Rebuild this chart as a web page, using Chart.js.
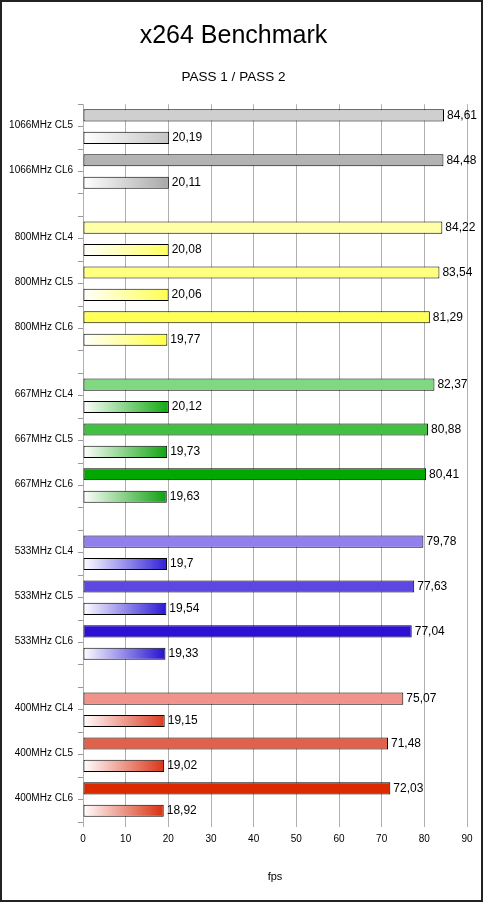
<!DOCTYPE html>
<html>
<head>
<meta charset="utf-8">
<title>x264 Benchmark</title>
<script src="https://cdn.jsdelivr.net/npm/chart.js@4/dist/chart.umd.min.js"></script>
<style>
    body { margin: 0; background: #fff; }
    canvas { display: block; }
</style>
</head>
<body>
<canvas id="benchChart" width="483" height="903"></canvas>
<script>
// Memory configurations, top to bottom
const configs = [
    '1066MHz CL5', '1066MHz CL6',
    '800MHz CL4', '800MHz CL5', '800MHz CL6',
    '667MHz CL4', '667MHz CL5', '667MHz CL6',
    '533MHz CL4', '533MHz CL5', '533MHz CL6',
    '400MHz CL4', '400MHz CL5', '400MHz CL6'
];
const pass1 = [84.61, 84.48, 84.22, 83.54, 81.29, 82.37, 80.88, 80.41, 79.78, 77.63, 77.04, 75.07, 71.48, 72.03];
const pass2 = [20.19, 20.11, 20.08, 20.06, 19.77, 20.12, 19.73, 19.63, 19.7, 19.54, 19.33, 19.15, 19.02, 18.92];
const fpsTicks = [0, 10, 20, 30, 40, 50, 60, 70, 80, 90];

// bar colours (pass 1 solid, pass 2 gradient end)
const pass1Colors = [
    '#cfcfcf', '#b3b3b3',
    '#ffffa6', '#ffff80', '#ffff55',
    '#80d880', '#42c042', '#00a800',
    '#8f80ee', '#5c48e0', '#2c10d4',
    '#f0938a', '#e2614a', '#dc2a00'
];
const pass2Colors = [
    '#c4c4c4', '#a8a8a8',
    '#ffff60', '#ffff50', '#ffff40',
    '#10a810', '#10a410', '#10a010',
    '#3020d8', '#2a18d4', '#2410d0',
    '#dc3a20', '#da3418', '#d83010'
];

// one row per bar, empty row between memory speeds
const rowLabels = [], p1Rows = [], p2Rows = [], rowIndex = [];
configs.forEach((name, i) => {
    const speed = name.split(' ')[0];
    if (i > 0 && speed !== configs[i - 1].split(' ')[0]) {
        rowLabels.push(''); p1Rows.push(null); p2Rows.push(null); rowIndex.push(-1);
    }
    rowLabels.push(name); p1Rows.push(pass1[i]); p2Rows.push(null); rowIndex.push(i);
    rowLabels.push(''); p1Rows.push(null); p2Rows.push(pass2[i]); rowIndex.push(i);
});

function pass2Fill(ctx) {
    const i = rowIndex[ctx.dataIndex];
    const end = pass2Colors[i] || '#ccc';
    const chart = ctx.chart;
    if (!chart.chartArea || ctx.raw == null) return end;
    const x = chart.scales.x;
    const x0 = x.getPixelForValue(0);
    const x1 = x.getPixelForValue(ctx.raw);
    const g = chart.ctx.createLinearGradient(x0, 0, x1, 0);
    g.addColorStop(0, '#ffffff');
    g.addColorStop(1, end);
    return g;
}

// value labels with decimal comma
const valueLabels = {
    id: 'valueLabels',
    afterDatasetsDraw(chart) {
        const c = chart.ctx;
        c.save();
        c.font = "12px 'Liberation Sans', Arial, sans-serif";
        c.fillStyle = '#000';
        c.textBaseline = 'middle';
        c.textAlign = 'left';
        chart.data.datasets.forEach((ds, d) => {
            chart.getDatasetMeta(d).data.forEach((bar, j) => {
                const v = ds.data[j];
                if (v == null) return;
                c.fillText(String(v).replace('.', ','), bar.x + 3, bar.y);
            });
        });
        c.restore();
    }
};

const frame = {
    id: 'frame',
    afterDraw(chart) {
        const c = chart.ctx;
        c.save();
        c.strokeStyle = '#222';
        c.lineWidth = 2;
        c.strokeRect(1, 1, 481, 900);
        c.restore();
    }
};

Chart.defaults.font.family = "'Liberation Sans', Arial, sans-serif";
Chart.defaults.color = '#000';

new Chart(document.getElementById('benchChart'), {
    type: 'bar',
    data: {
        labels: rowLabels,
        datasets: [{
            label: 'PASS 1',
            data: p1Rows,
            backgroundColor: ctx => pass1Colors[rowIndex[ctx.dataIndex]] || '#ccc'
        }, {
            label: 'PASS 2',
            data: p2Rows,
            backgroundColor: pass2Fill
        }]
    },
    options: {
        indexAxis: 'y',
        responsive: false,
        animation: false,
        layout: { padding: { top: 0, left: 0, right: 16, bottom: 19.4 } },
        datasets: {
            bar: {
                grouped: false,
                barPercentage: 0.54,
                categoryPercentage: 1,
                borderColor: '#000',
                borderWidth: 1,
                borderSkipped: false
            }
        },
        scales: {
            x: {
                min: 0,
                max: 90,
                afterBuildTicks: axis => { axis.ticks = fpsTicks.map(v => ({ value: v })); },
                grid: { color: '#b0b0b0', tickLength: 5 },
                border: { display: false },
                ticks: { font: { size: 10 }, padding: 6 },
                title: { display: true, text: 'fps', font: { size: 11 }, padding: { top: 19.4, bottom: 0 } }
            },
            y: {
                afterFit: axis => { axis.width = 83; },
                grid: { drawOnChartArea: false, color: '#999', tickLength: 5 },
                border: { display: false },
                ticks: { font: { size: 10 }, autoSkip: false, padding: 5, labelOffset: 10 }
            }
        },
        plugins: {
            legend: { display: false },
            tooltip: { enabled: false },
            title: {
                display: true,
                text: 'x264 Benchmark',
                font: { size: 25, weight: 'normal' },
                padding: { top: 21, bottom: 10 }
            },
            subtitle: {
                display: true,
                text: 'PASS 1 / PASS 2',
                font: { size: 13.5 },
                padding: { top: 8, bottom: 19 }
            }
        }
    },
    plugins: [valueLabels, frame]
});
</script>
</body>
</html>
